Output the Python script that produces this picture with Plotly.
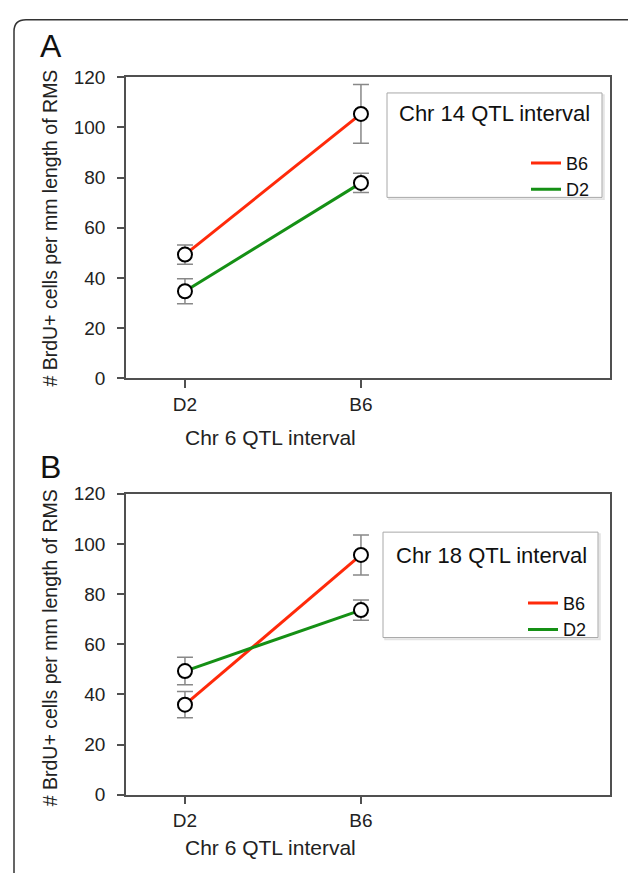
import plotly.graph_objects as go

W, H = 628, 873
FONT = "Liberation Sans, Arial, Helvetica, sans-serif"

categories = ["D2", "B6"]          # Chr 6 QTL interval genotype
cat_pos = [0, 1]

# Panel A: Chr 14 QTL interval
a_b6_mean = [49.3, 105.4]
a_b6_err = [3.8, 11.7]
a_d2_mean = [34.7, 77.9]
a_d2_err = [5.0, 3.8]

# Panel B: Chr 18 QTL interval
b_b6_mean = [35.9, 95.6]
b_b6_err = [5.2, 8.0]
b_d2_mean = [49.3, 73.6]
b_d2_err = [5.5, 4.0]

series_names = ["B6", "D2"]
RED = "#ff2a0a"
GREEN = "#159015"

def px(x):
    return x / W

def py(y):
    return 1 - y / H

fig = go.Figure()

panels = [
    dict(xa="x", ya="y", legend="legend",
         series=[(a_b6_mean, a_b6_err, RED), (a_d2_mean, a_d2_err, GREEN)]),
    dict(xa="x2", ya="y2", legend="legend2",
         series=[(b_b6_mean, b_b6_err, RED), (b_d2_mean, b_d2_err, GREEN)]),
]

for p in panels:
    for name, (mean, err, col) in zip(series_names, p["series"]):
        fig.add_trace(go.Scatter(
            x=cat_pos, y=mean, xaxis=p["xa"], yaxis=p["ya"],
            mode="lines+markers", showlegend=False, name=name,
            line=dict(color=col, width=3),
            marker=dict(symbol="circle", size=14, color="white",
                        line=dict(color="black", width=2)),
            error_y=dict(type="data", array=err, visible=True,
                         color="#888888", thickness=1.5, width=8),
        ))
    for name, (_, _, col) in zip(series_names, p["series"]):
        fig.add_trace(go.Scatter(
            x=[None], y=[None], xaxis=p["xa"], yaxis=p["ya"],
            mode="lines", name=name, legend=p["legend"],
            line=dict(color=col, width=3),
        ))

xr = [-0.335, 2.415]
axis_common = dict(showline=True, linecolor="#505050", linewidth=1.5, mirror=True,
                   showgrid=False, zeroline=False, ticks="outside",
                   tickcolor="#505050", tickwidth=1.5,
                   tickfont=dict(family=FONT, size=19, color="#222"))

fig.update_layout(
    width=W, height=H,
    margin=dict(l=0, r=0, t=0, b=0),
    paper_bgcolor="white", plot_bgcolor="white",
    font=dict(family=FONT, color="#222"),
    xaxis=dict(domain=[px(126), px(610)], range=xr, anchor="y",
               tickvals=cat_pos, ticktext=categories, ticklen=8, **axis_common),
    yaxis=dict(domain=[py(377.3), py(69)], range=[0, 120], dtick=20, anchor="x",
               ticklen=7, ticklabelstandoff=8, **axis_common),
    xaxis2=dict(domain=[px(126), px(610)], range=xr, anchor="y2",
                tickvals=cat_pos, ticktext=categories, ticklen=8, **axis_common),
    yaxis2=dict(domain=[py(804), py(495.7)], range=[0, 120], dtick=20, anchor="x2",
                ticklen=7, ticklabelstandoff=8, **axis_common),
    legend=dict(x=px(526), y=py(138), xanchor="left", yanchor="top",
                bgcolor="rgba(0,0,0,0)", borderwidth=0,
                font=dict(family=FONT, size=18, color="#111"), tracegroupgap=0),
    legend2=dict(x=px(523), y=py(589), xanchor="left", yanchor="top",
                 bgcolor="rgba(0,0,0,0)", borderwidth=0,
                 font=dict(family=FONT, size=18, color="#111"), tracegroupgap=0),
)

# outer rounded frame (top-left corner visible)
r = 12
frame = (f"M {px(14)},{py(900)} L {px(14)},{py(10 + r)} "
         f"Q {px(14)},{py(10)} {px(14 + r)},{py(10)} L {px(660)},{py(10)}")
shapes = [dict(type="path", path=frame, xref="paper", yref="paper",
               line=dict(color="#333", width=1.5))]

# legend boxes
for (x0, y0, x1, y1) in [(387, 85, 602, 192), (383, 535, 598, 643)]:
    shapes.append(dict(type="rect", xref="paper", yref="paper",
                       x0=px(x0 + 2), x1=px(x1 + 2), y0=py(y1 + 2), y1=py(y0 + 2),
                       line=dict(color="#e2e2e2", width=1.5), fillcolor="#eeeeee", layer="above"))
    shapes.append(dict(type="rect", xref="paper", yref="paper",
                       x0=px(x0), x1=px(x1), y0=py(y1), y1=py(y0),
                       line=dict(color="#a8a8a8", width=1), fillcolor="white", layer="above"))
fig.update_layout(shapes=shapes)

ann = []
ytitle = "# BrdU+ cells per mm length of RMS"
xtitle = "Chr 6 QTL interval"
for lab, (lx, ly) in zip(["A", "B"], [(51, 37), (50, 468)]):
    ann.append(dict(text=lab, x=px(lx), y=py(ly), xref="paper", yref="paper",
                    showarrow=False, xanchor="center", yanchor="middle",
                    font=dict(family=FONT, size=32, color="#111")))
for yc in [224, 654]:
    ann.append(dict(text=ytitle, x=px(50), y=py(yc), xref="paper", yref="paper",
                    showarrow=False, textangle=-90, xanchor="center", yanchor="middle",
                    font=dict(family=FONT, size=19.5, color="#222")))
for yc in [438, 858]:
    ann.append(dict(text=xtitle, x=px(270), y=py(yc), xref="paper", yref="paper",
                    showarrow=False, xanchor="center", yanchor="middle",
                    font=dict(family=FONT, size=21, color="#222")))
for t, (tx, ty) in zip(["Chr 14 QTL interval", "Chr 18 QTL interval"], [(397, 106), (394, 559)]):
    ann.append(dict(text=t, x=px(tx), y=py(ty), xref="paper", yref="paper",
                    showarrow=False, xanchor="left", yanchor="middle",
                    font=dict(family=FONT, size=22, color="#111")))
fig.update_layout(annotations=ann)

fig.write_html("out.html")
